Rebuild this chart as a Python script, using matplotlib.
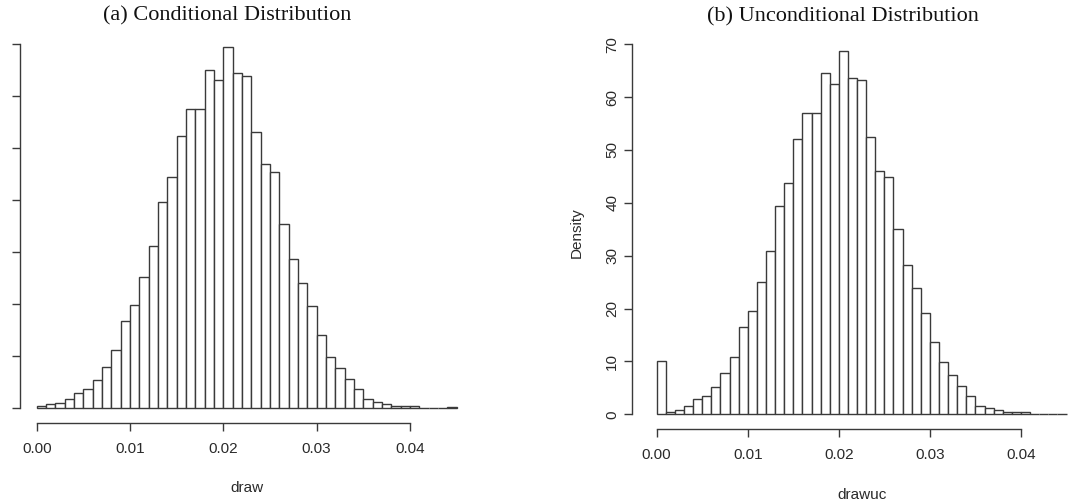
import matplotlib
matplotlib.use("Agg")
import matplotlib.pyplot as plt
import numpy as np

# ---- data (densities per 0.001-wide bin, starting at 0.000) ----
bin_width = 0.001
cond_density = [0.3, 0.8, 1.0, 1.7, 2.8, 3.6, 5.3, 7.9, 11.1, 16.7,
                19.9, 25.1, 31.2, 39.7, 44.5, 52.4, 57.6, 57.6, 65.1, 63.1,
                69.4, 64.4, 63.9, 53.1, 46.9, 45.4, 35.4, 28.6, 24.1, 19.6,
                14.0, 9.9, 7.6, 5.5, 3.6, 1.7, 1.2, 0.8, 0.4, 0.4,
                0.4, 0.0, 0.0, 0.0, 0.2]
uncond_density = [10.1, 0.4, 0.8, 1.6, 2.8, 3.5, 5.1, 7.9, 10.9, 16.5,
                  19.5, 25.0, 30.9, 39.4, 43.8, 52.0, 56.9, 57.0, 64.5, 62.5,
                  68.8, 63.7, 63.3, 52.5, 46.1, 44.8, 35.0, 28.2, 23.8, 19.2,
                  13.7, 9.8, 7.4, 5.4, 3.5, 1.6, 1.1, 0.8, 0.4, 0.4,
                  0.4, 0.0, 0.0, 0.0, 0.1]
x_ticks = [0.00, 0.01, 0.02, 0.03, 0.04]
x_ticklabels = ["0.00", "0.01", "0.02", "0.03", "0.04"]
y_ticks = [0, 10, 20, 30, 40, 50, 60, 70]
titles = ["(a) Conditional Distribution", "(b) Unconditional Distribution"]
xlabels = ["draw", "drawuc"]
ylabel_b = "Density"

W, H = 1072, 503
fig = plt.figure(figsize=(W / 100, H / 100), dpi=100)
fig.patch.set_facecolor("white")

LINE = "#3a3a3a"
TXT = "#2a2a2a"


def px_axes(left, right, top, bottom):
    return fig.add_axes([left / W, (H - bottom) / H, (right - left) / W, (bottom - top) / H])


def style(ax, density, xlim, ylim, show_ylabels):
    edges = np.arange(len(density)) * bin_width
    ax.bar(edges, density, width=bin_width, align="edge", color="white",
           edgecolor=LINE, linewidth=1.0)
    ax.set_xlim(*xlim)
    ax.set_ylim(*ylim)
    for s in ["top", "right"]:
        ax.spines[s].set_visible(False)
    ax.spines["bottom"].set_bounds(0, 0.04)
    ax.spines["left"].set_bounds(0, 70)
    for s in ["bottom", "left"]:
        ax.spines[s].set_color(LINE)
        ax.spines[s].set_linewidth(1.0)
    ax.set_xticks(x_ticks)
    ax.set_xticklabels(x_ticklabels, fontfamily="Liberation Sans", fontsize=11, color=TXT)
    ax.set_yticks(y_ticks)
    if show_ylabels:
        ax.set_yticklabels([str(v) for v in y_ticks], rotation=90, va="center",
                           fontfamily="Liberation Sans", fontsize=11, color=TXT)
    else:
        ax.tick_params(axis="y", labelleft=False)
    ax.tick_params(axis="x", length=6, width=1.0, color=LINE, pad=8)
    ax.tick_params(axis="y", length=6, width=1.0, color=LINE, pad=3)
    ax.patch.set_alpha(0)


# left panel (its tick labels lie outside the cropped figure in the reference)
axa = px_axes(20, 473.4, 32.6, 422.7)
style(axa, cond_density, (-0.0018, 0.0468), (-2.83, 72.2), False)

# right panel (extends beyond the right edge, as in the reference)
axb = px_axes(631.7, 1100, 32.6, 429.0)
style(axb, uncond_density, (-0.00274, 0.04867), (-2.78, 72.2), True)

fig.text(227 / W, 1 - 16 / H, titles[0], ha="center", va="center",
         fontfamily="Liberation Serif", fontsize=16, color="#111111")
fig.text(842.5 / W, 1 - 17 / H, titles[1], ha="center", va="center",
         fontfamily="Liberation Serif", fontsize=16, color="#111111")
fig.text(247 / W, 1 - 488 / H, xlabels[0], ha="center", va="center",
         fontfamily="Liberation Sans", fontsize=11, color=TXT)
fig.text(861.6 / W, 1 - 495 / H, xlabels[1], ha="center", va="center",
         fontfamily="Liberation Sans", fontsize=11, color=TXT)
fig.text(577 / W, 1 - 233 / H, ylabel_b, ha="center", va="center", rotation=90,
         fontfamily="Liberation Sans", fontsize=11, color=TXT)

fig.savefig("out.png", dpi=100, facecolor="white")
